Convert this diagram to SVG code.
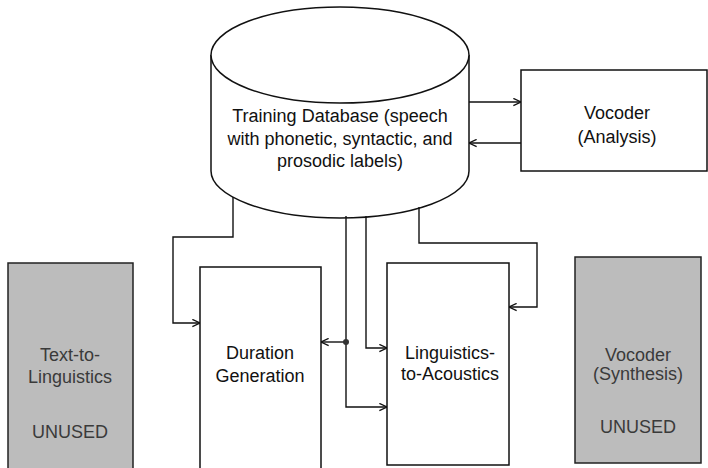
<svg xmlns="http://www.w3.org/2000/svg" width="708" height="468" viewBox="0 0 708 468">
<style>
  .ln{fill:none;stroke:#111;stroke-width:1.4}
  .box{fill:#fff;stroke:#111;stroke-width:1.5}
  .gbox{fill:#bcbcbc;stroke:#222;stroke-width:1.5}
  .t{font-family:"Liberation Sans",Arial,sans-serif;font-size:18px;fill:#111;text-anchor:middle}
  .g{fill:#3a3a3a}
</style>
<defs>
  <marker id="ah" viewBox="0 0 10 10" refX="9.5" refY="5" markerWidth="9" markerHeight="9" markerUnits="userSpaceOnUse" orient="auto">
    <path d="M1,1 L9.5,5 L1,9" fill="none" stroke="#111" stroke-width="1.5"/>
  </marker>
</defs>
<g id="training-db">
  <path class="box" d="M211,55 L211,171 A129,47 0 0 0 469,171 L469,55"/>
  <ellipse class="box" cx="340" cy="55" rx="129" ry="48"/>
  <text class="t" x="340" y="122">Training Database (speech</text>
  <text class="t" x="340" y="145">with phonetic, syntactic, and</text>
  <text class="t" x="340" y="167">prosodic labels)</text>
</g>
<g id="vocoder-analysis">
  <rect class="box" x="521" y="70" width="186" height="101"/>
  <text class="t" x="617" y="119">Vocoder</text>
  <text class="t" x="617" y="143">(Analysis)</text>
</g>
<g id="text-to-linguistics">
  <rect class="gbox" x="8" y="263" width="125" height="210"/>
  <text class="t g" x="70" y="361">Text-to-</text>
  <text class="t g" x="70" y="383">Linguistics</text>
  <text class="t g" x="70" y="438">UNUSED</text>
</g>
<g id="duration-generation">
  <rect class="box" x="200" y="267" width="121" height="206"/>
  <text class="t" x="260" y="359">Duration</text>
  <text class="t" x="260" y="382">Generation</text>
</g>
<g id="linguistics-to-acoustics">
  <rect class="box" x="387" y="263" width="122" height="202"/>
  <text class="t" x="450" y="359">Linguistics-</text>
  <text class="t" x="450" y="380">to-Acoustics</text>
</g>
<g id="vocoder-synthesis">
  <rect class="gbox" x="575" y="257" width="126" height="206"/>
  <text class="t g" x="638" y="361">Vocoder</text>
  <text class="t g" x="638" y="380">(Synthesis)</text>
  <text class="t g" x="638" y="433">UNUSED</text>
</g>
<g id="connectors">
  <path class="ln" d="M469,102 L521,102" marker-end="url(#ah)"/>
  <path class="ln" d="M521,143 L469,143" marker-end="url(#ah)"/>
  <path class="ln" d="M233,197 L233,237 L173,237 L173,323 L200,323" marker-end="url(#ah)"/>
  <path class="ln" d="M346,216 L346,407 L387,407" marker-end="url(#ah)"/>
  <path class="ln" d="M346,342 L321,342" marker-end="url(#ah)"/>
  <circle cx="346" cy="342" r="3" fill="#333"/>
  <path class="ln" d="M366,216 L366,348 L387,348" marker-end="url(#ah)"/>
  <path class="ln" d="M419,207 L419,243 L537,243 L537,307 L509,307" marker-end="url(#ah)"/>
</g>
</svg>
